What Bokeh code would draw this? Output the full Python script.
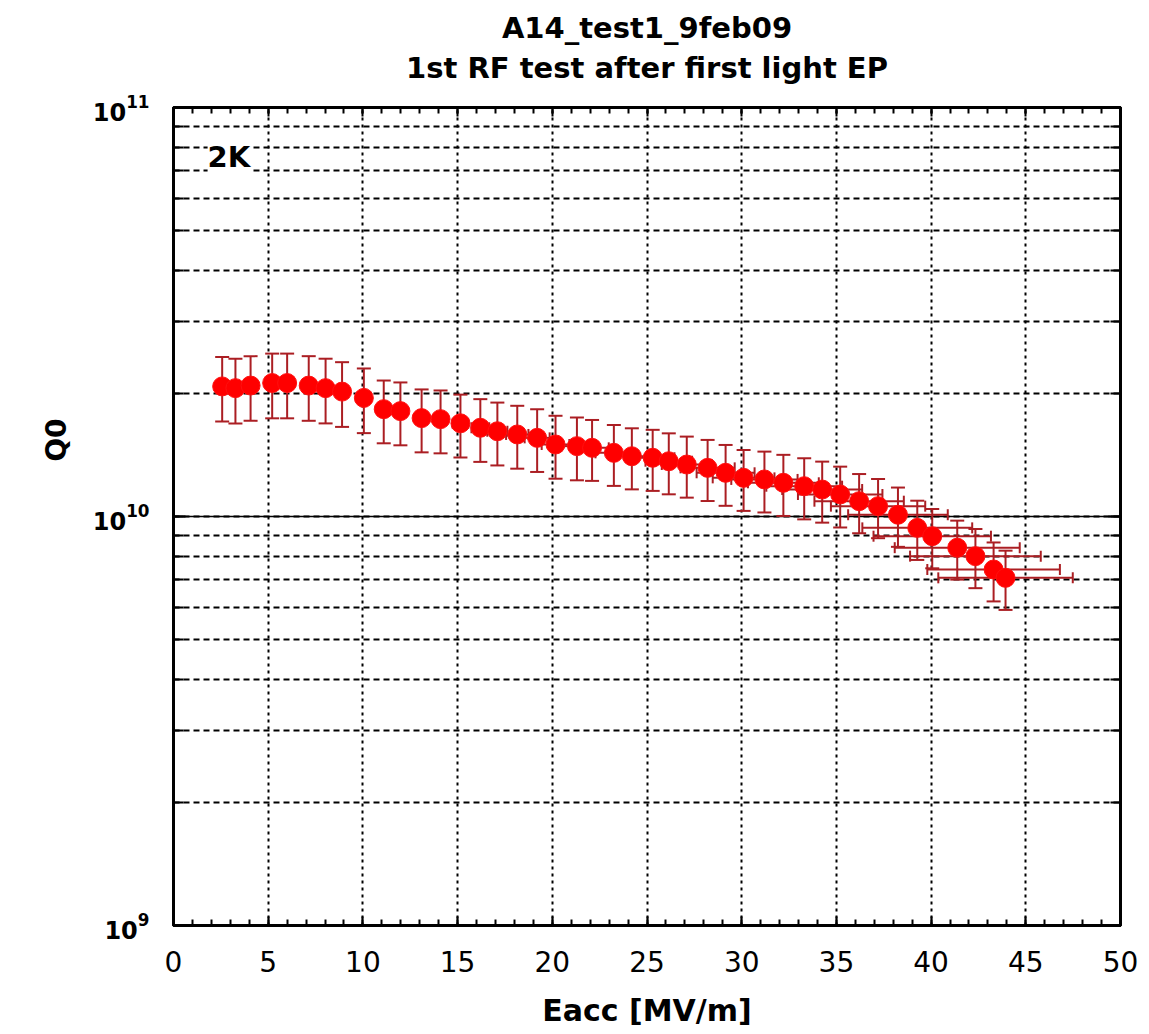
import numpy as np
from bokeh.plotting import figure
from bokeh.models import (LinearAxis, LogAxis, Label, SingleIntervalTicker, LogTicker,
                          CustomJSTickFormatter, LogTickFormatter, ColumnDataSource, Title)
from bokeh.embed import file_html
from bokeh.resources import INLINE

# ---------------- data ----------------
eacc = [2.57, 3.27, 4.07, 5.21, 6.00, 7.14, 8.03, 8.90, 10.05, 11.10, 11.98, 13.10, 14.10,
        15.15, 16.20, 17.10, 18.15, 19.20, 20.17, 21.30, 22.10, 23.25, 24.20, 25.30, 26.15,
        27.10, 28.20, 29.15, 30.10, 31.20, 32.20, 33.30, 34.25, 35.20, 36.20, 37.20, 38.25,
        39.27, 40.06, 41.38, 42.34, 43.30, 43.93]
q0_e10 = [2.08, 2.06, 2.09, 2.12, 2.12, 2.09, 2.06, 2.02, 1.95, 1.83, 1.81, 1.74, 1.73,
          1.69, 1.648, 1.616, 1.587, 1.557, 1.50, 1.486, 1.472, 1.431, 1.404, 1.392, 1.365,
          1.340, 1.315, 1.279, 1.243, 1.232, 1.209, 1.186, 1.164, 1.132, 1.090, 1.060, 1.010,
          0.938, 0.895, 0.839, 0.800, 0.742, 0.708]
dq0_e10 = [0.374, 0.371, 0.376, 0.382, 0.382, 0.376, 0.371, 0.364, 0.351, 0.320, 0.317, 0.305,
           0.303, 0.296, 0.288, 0.283, 0.278, 0.272, 0.263, 0.260, 0.250, 0.243, 0.239, 0.237,
           0.232, 0.228, 0.224, 0.217, 0.211, 0.209, 0.206, 0.202, 0.198, 0.192, 0.180, 0.175,
           0.167, 0.155, 0.148, 0.138, 0.132, 0.122, 0.117]
deacc = [0.03, 0.04, 0.05, 0.06, 0.07, 0.09, 0.11, 0.14, 0.18, 0.22, 0.26, 0.31, 0.36,
         0.41, 0.47, 0.53, 0.59, 0.66, 0.73, 0.82, 0.88, 0.97, 1.05, 1.15, 1.23,
         1.32, 1.43, 1.53, 1.63, 1.75, 1.87, 2.00, 2.11, 2.23, 2.36, 2.49, 2.63,
         2.90, 3.10, 3.30, 3.45, 3.50, 3.55]

x_ticks_interval = 5
title_lines = ["A14_test1_9feb09", "1st RF test after first light EP"]
x_label = "Eacc [MV/m]"
y_label = "Q0"
temp_label = "2K"

# ---------------- derived columns ----------------
x = np.array(eacc)
q = np.array(q0_e10) * 1e10
dq = np.array(dq0_e10) * 1e10
dx = np.array(deacc)
src = ColumnDataSource(dict(x=x, q=q, qlo=q - dq, qhi=q + dq, xlo=x - dx, xhi=x + dx))

# ---------------- figure ----------------
W, H = 1140, 1030
FL, FT, FW, FH = 173, 107, 947, 818
p = figure(width=W, height=H, x_range=(0, 50), y_range=(1e9, 1e11), y_axis_type="log",
           output_backend="svg", toolbar_location=None,
           min_border_left=FL, min_border_top=FT,
           min_border_right=W - FL - FW, min_border_bottom=H - FT - FH)
p.background_fill_color = "white"
p.border_fill_color = "white"
p.outline_line_color = "black"
p.outline_line_width = 3

blank = CustomJSTickFormatter(code="return ''")

xt = SingleIntervalTicker(interval=x_ticks_interval, num_minor_ticks=5)
yt = LogTicker(num_minor_ticks=10)

def style_axis(ax, is_y):
    ax.axis_line_color = "black"
    ax.axis_line_width = 3
    ax.major_tick_line_color = "black"
    ax.minor_tick_line_color = "black"
    ax.major_tick_line_width = 2
    ax.minor_tick_line_width = 2
    ax.major_tick_out = 0
    ax.minor_tick_out = 0
    ax.major_tick_in = 12 if is_y else 9
    ax.minor_tick_in = 10 if is_y else 6

bx = p.xaxis[0]
bx.ticker = xt
style_axis(bx, False)
bx.major_label_text_font = "DejaVu Sans"
bx.major_label_text_font_size = "28px"
bx.major_label_text_font_style = "normal"
bx.major_label_text_color = "black"
bx.major_label_standoff = 25
bx.axis_label = x_label
bx.axis_label_text_font = "DejaVu Sans"
bx.axis_label_text_font_style = "bold"
bx.axis_label_text_font_size = "30px"
bx.axis_label_text_color = "black"
bx.axis_label_standoff = 18

ly = p.yaxis[0]
ly.ticker = yt
ly.formatter = LogTickFormatter()
style_axis(ly, True)
ly.major_label_text_font = "DejaVu Sans"
ly.major_label_text_font_style = "bold"
ly.major_label_text_font_size = "24px"
ly.major_label_text_color = "black"
ly.major_label_standoff = 24

# top axis: ticks only; a blank axis label reserves a little room under the titles
tx = LinearAxis(ticker=xt, formatter=blank)
style_axis(tx, False)
tx.axis_label = " "
tx.axis_label_text_font_size = "14px"
tx.axis_label_standoff = 0
p.add_layout(tx, "above")
ry = LogAxis(ticker=yt, formatter=blank)
style_axis(ry, True)
p.add_layout(ry, "right")

# y label as a side title, shifted along the axis
p.add_layout(Title(text=y_label, align="right", offset=311, text_font="DejaVu Sans",
                   text_font_style="bold", text_font_size="28px", text_color="black",
                   standoff=34), "left")

# titles: first added is closest to the frame
p.add_layout(Title(text=title_lines[1], align="center", text_font="DejaVu Sans",
                   text_font_style="bold", text_font_size="29px", text_color="black",
                   standoff=8), "above")
p.add_layout(Title(text=title_lines[0], align="center", text_font="DejaVu Sans",
                   text_font_style="bold", text_font_size="29px", text_color="black",
                   standoff=0), "above")

p.xgrid.ticker = xt
p.xgrid.grid_line_color = "black"
p.xgrid.grid_line_width = 2
p.xgrid.grid_line_dash = "3 4"
p.ygrid.ticker = yt
p.ygrid.grid_line_color = "black"
p.ygrid.grid_line_width = 1.5
p.ygrid.grid_line_dash = "solid"
p.ygrid.minor_grid_line_color = "black"
p.ygrid.minor_grid_line_width = 2
p.ygrid.minor_grid_line_dash = "6 4"

# ---------------- data marks ----------------
bar_col = "#ab1e23"
p.segment(x0="xlo", y0="q", x1="xhi", y1="q", source=src, line_color=bar_col, line_width=2)
p.segment(x0="x", y0="qlo", x1="x", y1="qhi", source=src, line_color=bar_col, line_width=2)
p.scatter(x="x", y="qhi", source=src, marker="dash", size=14, line_color=bar_col, line_width=2)
p.scatter(x="x", y="qlo", source=src, marker="dash", size=14, line_color=bar_col, line_width=2)
p.scatter(x="xlo", y="q", source=src, marker="dash", angle=np.pi / 2, size=11,
          line_color=bar_col, line_width=2)
p.scatter(x="xhi", y="q", source=src, marker="dash", angle=np.pi / 2, size=11,
          line_color=bar_col, line_width=2)
p.scatter(x="x", y="q", source=src, marker="circle", size=19,
          fill_color="#ff0000", line_color="#ff1010", line_width=1)

# ---------------- in-frame text ----------------
p.add_layout(Label(x=1.8, y=7.57e10, text=temp_label, text_align="left",
                   text_baseline="middle", text_font="DejaVu Sans", text_font_style="bold",
                   text_font_size="29px", text_color="black",
                   background_fill_color="white"))

open("out.html", "w").write(file_html(p, INLINE))
